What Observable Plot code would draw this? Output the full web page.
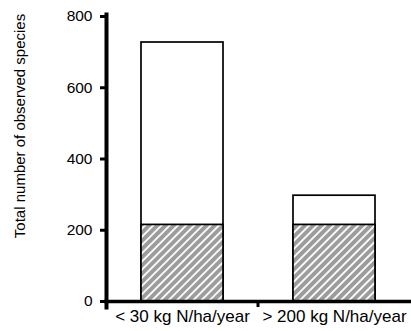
<!DOCTYPE html>
<html>
<head>
<meta charset="utf-8">
<script src="https://cdn.jsdelivr.net/npm/d3@7"></script>
<script src="https://cdn.jsdelivr.net/npm/@observablehq/plot@0.6"></script>
<style>
  html, body { margin: 0; padding: 0; background: #fff; }
  #chart svg { display: block; }
</style>
</head>
<body>
<div id="chart"></div>
<script>
// Nitrogen deposition classes
const categories = ["< 30 kg N/ha/year", "> 200 kg N/ha/year"];
// Species observed in both classes (hatched part of each bar)
const sharedSpecies = [215, 215];
// Total number of observed species per class
const totalSpecies = [727, 297];
// Y axis ticks
const yTicks = [0, 200, 400, 600, 800];
const yLabel = "Total number of observed species";

const rows = categories.map((c, i) => ({category: c, shared: sharedSpecies[i], total: totalSpecies[i]}));

const font = "'Liberation Sans', Arial, Helvetica, sans-serif";

// Small ticks under the baseline, between neighbouring categories
function boundaryTicks(index, scales) {
  const x = scales.x, y = scales.y;
  const bw = x.bandwidth ? x.bandwidth() : 0;
  const centers = categories.map(c => x(c) + bw / 2);
  const g = d3.create("svg:g");
  const y0 = y(0);
  for (let i = 1; i < centers.length; i++) {
    const mx = (centers[i - 1] + centers[i]) / 2;
    g.append("line")
      .attr("x1", mx).attr("x2", mx)
      .attr("y1", y0).attr("y2", y0 + 6)
      .attr("stroke", "#000").attr("stroke-width", 3);
  }
  return g.node();
}

const chart = Plot.plot({
  width: 411,
  height: 331,
  marginLeft: 106,
  marginRight: 0,
  marginTop: 16,
  marginBottom: 30,
  style: {fontFamily: font, background: "#fff", color: "#000"},
  x: {domain: categories, paddingInner: 0.46, paddingOuter: 0.23},
  y: {domain: [0, 800]},
  marks: [
    // total (white) bar
    Plot.barY(rows, {x: "category", y1: 0, y2: "total", fill: "#fff", stroke: "#000", strokeWidth: 1.7}),
    // shared species (hatched) segment
    Plot.barY(rows, {x: "category", y1: 0, y2: "shared", fill: "url(#hatch)", stroke: "#000", strokeWidth: 1.7}),
    // axis lines
    Plot.ruleY([0], {stroke: "#000", strokeWidth: 3.5, insetLeft: -2}),
    Plot.frame({anchor: "left", stroke: "#000", strokeWidth: 4, insetBottom: -6, insetTop: -2}),
    Plot.axisY({ticks: yTicks, tickSize: 6, tickPadding: 8, strokeWidth: 3, fontSize: 15.5, label: null}),
    Plot.axisX({tickSize: 0, tickPadding: 8, fontSize: 17, label: null}),
    boundaryTicks,
    Plot.text([yLabel], {frameAnchor: "left", rotate: -90, dx: -86.5, dy: -33, fontSize: 15, textAnchor: "middle", lineAnchor: "middle", fill: "#000"})
  ]
});

// diagonal hatch used by the shared-species segments
const defs = d3.select(chart).insert("defs", ":first-child");
const pat = defs.append("pattern")
  .attr("id", "hatch")
  .attr("patternUnits", "userSpaceOnUse")
  .attr("width", 5.8).attr("height", 5.8)
  .attr("patternTransform", "rotate(45)");
pat.append("rect").attr("width", 5.8).attr("height", 5.8).attr("fill", "#9c9c9c");
pat.append("line").attr("x1", 1).attr("x2", 1).attr("y1", 0).attr("y2", 5.8)
  .attr("stroke", "#fff").attr("stroke-width", 1.8);

document.getElementById("chart").appendChild(chart);
</script>
</body>
</html>
